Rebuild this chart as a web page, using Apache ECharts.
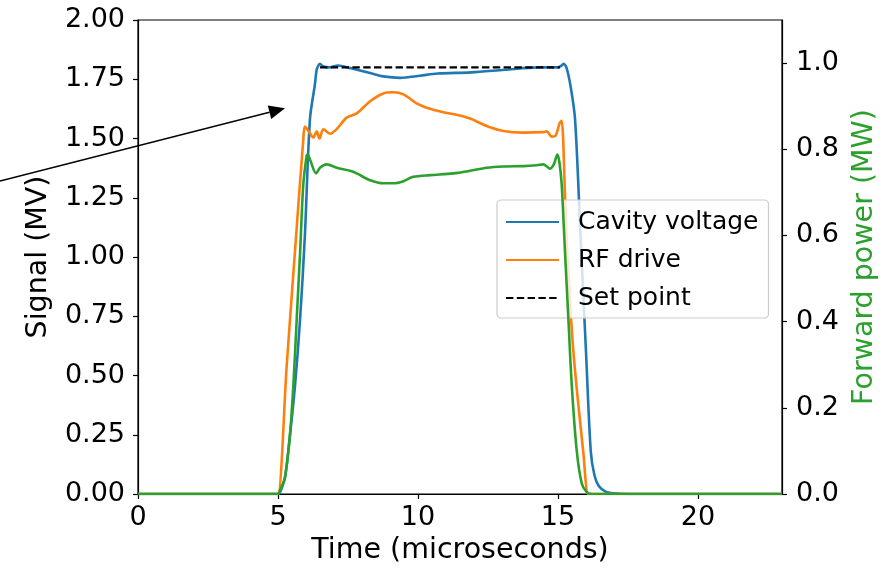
<!DOCTYPE html>
<html>
<head>
<meta charset="utf-8">
<script src="https://cdn.jsdelivr.net/npm/echarts@6/dist/echarts.min.js"></script>
<style>html,body{margin:0;padding:0;background:#fff}#c{width:892px;height:570px}</style>
</head>
<body>
<div id="c"></div>
<script>
// Time (microseconds) and values
var cavityT = [0, 4.9, 5.0, 5.1, 5.25, 5.43, 5.61, 5.79, 5.96, 6.14, 6.32, 6.38, 6.45, 6.5, 6.6, 6.8, 7.15, 7.57, 8.29, 8.76, 9.36, 10.07, 10.7, 11.9, 13.1, 14.3, 15.0, 15.1, 15.2, 15.3, 15.45, 15.61, 15.8, 16.0, 16.17, 16.3, 16.45, 16.7, 17.0, 17.5, 23];
var cavityV = [0, 0, 0, 0.015, 0.07, 0.25, 0.46, 0.74, 1.09, 1.58, 1.73, 1.79, 1.81, 1.815, 1.805, 1.80, 1.808, 1.797, 1.776, 1.762, 1.756, 1.765, 1.774, 1.779, 1.79, 1.80, 1.80, 1.805, 1.815, 1.80, 1.72, 1.58, 1.10, 0.60, 0.18, 0.08, 0.035, 0.01, 0.003, 0, 0];

var driveT = [0, 4.9, 5.0, 5.31, 5.61, 5.9, 5.96, 6.1, 6.26, 6.38, 6.48, 6.62, 6.86, 7.1, 7.45, 7.81, 8.29, 8.76, 9.12, 9.48, 9.95, 10.31, 10.9, 11.38, 11.86, 12.45, 13.05, 13.76, 14.48, 14.6, 14.77, 14.9, 15.06, 15.13, 15.25, 15.33, 15.55, 15.9, 16.08, 16.2, 23];
var driveV = [0, 0, 0, 0.54, 1.03, 1.49, 1.55, 1.53, 1.504, 1.53, 1.50, 1.539, 1.52, 1.54, 1.588, 1.606, 1.657, 1.69, 1.695, 1.686, 1.648, 1.63, 1.611, 1.60, 1.584, 1.553, 1.532, 1.525, 1.527, 1.53, 1.508, 1.51, 1.565, 1.575, 1.26, 1.02, 0.60, 0.18, 0, 0, 0];

var setT = [6.5, 15.07];
var setV = [1.80, 1.80];

var powerT = [0, 4.9, 5.0, 5.07, 5.25, 5.43, 5.55, 5.67, 5.79, 5.9, 6.02, 6.06, 6.15, 6.36, 6.5, 6.74, 7.1, 7.57, 7.81, 8.29, 8.76, 9.12, 9.48, 9.83, 10.43, 11.26, 11.86, 12.45, 13.05, 13.76, 14.24, 14.48, 14.71, 14.85, 14.98, 15.05, 15.13, 15.25, 15.37, 15.49, 15.67, 15.85, 16.02, 16.2, 16.4, 23];
var powerV = [0, 0, 0, 0.0085, 0.039, 0.139, 0.254, 0.408, 0.562, 0.715, 0.784, 0.788, 0.775, 0.744, 0.757, 0.765, 0.757, 0.750, 0.744, 0.728, 0.721, 0.721, 0.726, 0.736, 0.740, 0.744, 0.750, 0.757, 0.760, 0.761, 0.763, 0.765, 0.755, 0.765, 0.788, 0.77, 0.72, 0.562, 0.408, 0.254, 0.10, 0.024, 0.005, 0, 0, 0];

var xTicks = [0, 5, 10, 15, 20];
var leftTicks = [0, 0.25, 0.5, 0.75, 1.0, 1.25, 1.5, 1.75, 2.0];
var rightTicks = [0, 0.2, 0.4, 0.6, 0.8, 1.0];

function pairs(t, v) { return t.map(function (x, i) { return [x, v[i]]; }); }

var FONT = 'DejaVu Sans';
var chart = echarts.init(document.getElementById('c'), null, {renderer: 'canvas'});

// arrow geometry (annotation, pixels)
var tip = [285, 108.3], tail = [0, 181];
var dx = tip[0] - tail[0], dy = tip[1] - tail[1], L = Math.sqrt(dx * dx + dy * dy);
var ux = dx / L, uy = dy / L, hl = 16, hw = 7;
var base = [tip[0] - hl * ux, tip[1] - hl * uy];

var SM = 0.3;
chart.setOption({
  animation: false,
  textStyle: {fontFamily: FONT},
  grid: {left: 138, right: 110, top: 20, bottom: 73, show: true, borderColor: '#000', borderWidth: 1.2, backgroundColor: 'transparent'},
  xAxis: {
    type: 'value', min: 0, max: 23,
    name: 'Time (microseconds)', nameLocation: 'middle', nameGap: 42,
    nameTextStyle: {fontSize: 28.5, color: '#000', fontFamily: FONT},
    axisLine: {show: true, onZero: false, lineStyle: {color: '#000', width: 1.2}},
    axisTick: {show: true, length: 5, lineStyle: {color: '#000', width: 1.2}, customValues: xTicks},
    axisLabel: {fontSize: 27, color: '#000', margin: 10, customValues: xTicks, fontFamily: FONT},
    splitLine: {show: false}
  },
  yAxis: [{
    type: 'value', min: 0, max: 2.0,
    name: 'Signal (MV)', nameLocation: 'middle', nameGap: 85, nameRotate: 90,
    nameTextStyle: {fontSize: 28.5, color: '#000', fontFamily: FONT},
    axisLine: {show: true, lineStyle: {color: '#000', width: 1.2}},
    axisTick: {show: true, length: 5, lineStyle: {color: '#000', width: 1.2}, customValues: leftTicks},
    axisLabel: {fontSize: 27, color: '#000', margin: 13, customValues: leftTicks, fontFamily: FONT,
      formatter: function (v) { return v.toFixed(2); }},
    splitLine: {show: false}
  }, {
    type: 'value', min: 0, max: 1.1, position: 'right',
    name: 'Forward power (MW)', nameLocation: 'middle', nameGap: 66, nameRotate: 90,
    nameTextStyle: {fontSize: 28.5, color: '#2ca02c', fontFamily: FONT},
    axisLine: {show: true, lineStyle: {color: '#000', width: 1.2}},
    axisTick: {show: true, length: 5, lineStyle: {color: '#000', width: 1.2}, customValues: rightTicks},
    axisLabel: {fontSize: 27, color: '#000', margin: 14, customValues: rightTicks, fontFamily: FONT,
      formatter: function (v) { return v.toFixed(1); }},
    splitLine: {show: false}
  }],
  legend: {
    orient: 'vertical', left: 497, top: 200,
    data: ['Cavity voltage', 'RF drive', 'Set point'],
    itemWidth: 53, itemHeight: 14, itemGap: 10,
    padding: [8, 10, 6, 8],
    itemStyle: {opacity: 0},
    backgroundColor: 'rgba(255,255,255,0.8)', borderColor: '#cccccc', borderWidth: 1.2, borderRadius: 4,
    textStyle: {fontSize: 25, color: '#000', fontFamily: FONT, lineHeight: 28, padding: [0, 0, 0, 14]}
  },
  graphic: [
    {type: 'line', silent: true, z: 10, shape: {x1: tail[0], y1: tail[1], x2: base[0], y2: base[1]}, style: {stroke: '#000', lineWidth: 1.3}},
    {type: 'polygon', silent: true, z: 10, shape: {points: [tip, [base[0] + hw * uy, base[1] - hw * ux], [base[0] - hw * uy, base[1] + hw * ux]]}, style: {fill: '#000'}}
  ],
  series: [
    {name: 'Cavity voltage', type: 'line', yAxisIndex: 0, data: pairs(cavityT, cavityV), symbol: 'none', showSymbol: false,
      smooth: SM, lineStyle: {color: '#1f77b4', width: 2.6}, itemStyle: {color: '#1f77b4'}, z: 2},
    {name: 'RF drive', type: 'line', yAxisIndex: 0, data: pairs(driveT, driveV), symbol: 'none', showSymbol: false,
      smooth: SM, lineStyle: {color: '#ff7f0e', width: 2.6}, itemStyle: {color: '#ff7f0e'}, z: 2},
    {name: 'Set point', type: 'line', yAxisIndex: 0, data: pairs(setT, setV), symbol: 'none', showSymbol: false,
      lineStyle: {color: '#000', width: 2.2, type: [7.4, 3.4]}, itemStyle: {color: '#000'}, z: 2},
    {name: 'Forward power', type: 'line', yAxisIndex: 1, data: pairs(powerT, powerV), symbol: 'none', showSymbol: false,
      smooth: SM, lineStyle: {color: '#2ca02c', width: 2.6}, itemStyle: {color: '#2ca02c'}, z: 5}
  ]
});
</script>
</body>
</html>
